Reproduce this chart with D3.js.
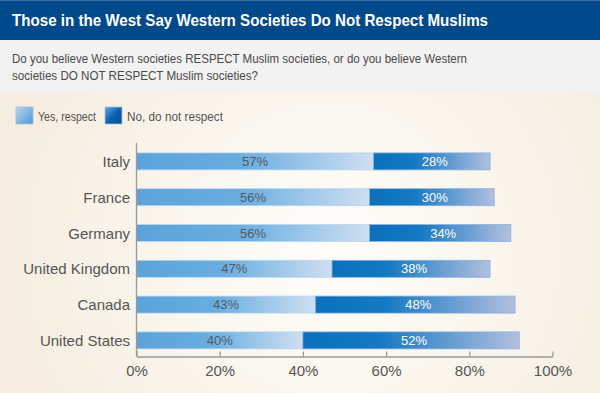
<!DOCTYPE html>
<html>
<head>
<meta charset="utf-8">
<script src="https://cdn.jsdelivr.net/npm/d3@7"></script>
<style>
  body { margin: 0; background: #fff; }
  svg { display: block; font-family: 'Liberation Sans', Arial, sans-serif; }
</style>
</head>
<body>
<svg id="chart" width="600" height="393"></svg>
<script>
const countries = ['Italy', 'France', 'Germany', 'United Kingdom', 'Canada', 'United States']
const yesRespect = [57, 56, 56, 47, 43, 40]
const noRespect = [28, 30, 34, 38, 48, 52]
const tickValues = [0, 20, 40, 60, 80, 100]

const width = 600
const height = 393
const svg = d3.select('#chart')
const defs = svg.append('defs')

// background glow
const bg = defs.append('radialGradient')
  .attr('id', 'bgGlow')
  .attr('gradientUnits', 'userSpaceOnUse')
  .attr('cx', 330).attr('cy', 250).attr('r', 330)
bg.append('stop').attr('offset', '0%').attr('stop-color', '#fefdfa')
bg.append('stop').attr('offset', '45%').attr('stop-color', '#fbf7ef')
bg.append('stop').attr('offset', '100%').attr('stop-color', '#f5ede0')

const yesGrad = defs.append('linearGradient').attr('id', 'yesGrad')
yesGrad.append('stop').attr('offset', '0%').attr('stop-color', '#5aa3da')
yesGrad.append('stop').attr('offset', '45%').attr('stop-color', '#6aaee0')
yesGrad.append('stop').attr('offset', '100%').attr('stop-color', '#cfdff2')

const noGrad = defs.append('linearGradient').attr('id', 'noGrad')
noGrad.append('stop').attr('offset', '0%').attr('stop-color', '#0b71bd')
noGrad.append('stop').attr('offset', '35%').attr('stop-color', '#1479c2')
noGrad.append('stop').attr('offset', '100%').attr('stop-color', '#b2bfe0')

const yesIcon = defs.append('linearGradient').attr('id', 'yesIcon')
  .attr('x1', 0).attr('y1', 0).attr('x2', 1).attr('y2', 1)
yesIcon.append('stop').attr('offset', '0%').attr('stop-color', '#b9d7f1')
yesIcon.append('stop').attr('offset', '100%').attr('stop-color', '#4d96d4')

const noIcon = defs.append('linearGradient').attr('id', 'noIcon')
  .attr('x1', 0).attr('y1', 0).attr('x2', 1).attr('y2', 1)
noIcon.append('stop').attr('offset', '0%').attr('stop-color', '#6ea3d8')
noIcon.append('stop').attr('offset', '50%').attr('stop-color', '#0d63b0')
noIcon.append('stop').attr('offset', '100%').attr('stop-color', '#0a4d92')

// panels
svg.append('rect').attr('width', width).attr('height', height).attr('fill', 'url(#bgGlow)')
svg.append('rect').attr('width', width).attr('height', 40).attr('fill', '#004a8c')
svg.append('rect').attr('width', width).attr('height', 1).attr('fill', '#3d6fa6')
svg.append('rect').attr('y', 40).attr('width', width).attr('height', 53).attr('fill', '#f2f2f2')

// the original face is narrower than Liberation Sans, so fit widths
svg.append('text')
  .attr('x', 12).attr('y', 25.5)
  .attr('fill', '#fff')
  .attr('textLength', 476)
  .attr('lengthAdjust', 'spacingAndGlyphs')
  .style('font-size', '16.5px')
  .style('font-weight', 'bold')
  .text('Those in the West Say Western Societies Do Not Respect Muslims')

const sub = svg.append('text')
  .attr('fill', '#4a4a4a')
  .style('font-size', '13px')
sub.append('tspan').attr('x', 12).attr('y', 63)
  .attr('textLength', 455).attr('lengthAdjust', 'spacingAndGlyphs')
  .text('Do you believe Western societies RESPECT Muslim societies, or do you believe Western')
sub.append('tspan').attr('x', 12).attr('y', 80)
  .attr('textLength', 246).attr('lengthAdjust', 'spacingAndGlyphs')
  .text('societies DO NOT RESPECT Muslim societies?')

// legend
const legendData = [
  { fill: 'url(#yesIcon)', label: 'Yes, respect', x: 16, w: 58 },
  { fill: 'url(#noIcon)', label: 'No, do not respect', x: 105, w: 96 }
]
const legend = svg.append('g').selectAll('g')
  .data(legendData)
  .enter()
  .append('g')
  .attr('transform', d => `translate(${d.x}, 107)`)
legend.append('rect')
  .attr('width', 17).attr('height', 17)
  .attr('fill', d => d.fill)
  .attr('stroke', '#9cc3e6').attr('stroke-width', 0.8)
legend.append('text')
  .attr('x', 22).attr('y', 14)
  .attr('fill', '#555')
  .attr('textLength', d => d.w)
  .attr('lengthAdjust', 'spacingAndGlyphs')
  .style('font-size', '13px')
  .text(d => d.label)

// scales
const x = d3.scaleLinear().domain([0, 100]).range([136.5, 552.5])
const y = d3.scaleBand()
  .domain(countries)
  .range([143.5, 358.3])
  .paddingInner(0.525)
  .paddingOuter(0.2625)

const rows = countries.map((c, i) => ({ country: c, yes: yesRespect[i], no: noRespect[i] }))

const bars = svg.append('g')
  .selectAll('g')
  .data(rows)
  .enter()
  .append('g')

bars.append('rect')
  .attr('x', x(0))
  .attr('y', d => y(d.country))
  .attr('width', d => x(d.yes) - x(0))
  .attr('height', y.bandwidth())
  .attr('fill', 'url(#yesGrad)')
  .attr('stroke', '#bcd5ee').attr('stroke-width', 0.8)

bars.append('rect')
  .attr('x', d => x(d.yes))
  .attr('y', d => y(d.country))
  .attr('width', d => x(d.yes + d.no) - x(d.yes))
  .attr('height', y.bandwidth())
  .attr('fill', 'url(#noGrad)')
  .attr('stroke', '#8fb0da').attr('stroke-width', 0.8)

bars.append('text')
  .attr('x', d => (x(0) + x(d.yes)) / 2)
  .attr('y', d => y(d.country) + y.bandwidth() / 2 + 4.5)
  .attr('text-anchor', 'middle')
  .attr('fill', '#4f5c6b')
  .style('font-size', '13px')
  .text(d => d.yes + '%')

bars.append('text')
  .attr('x', d => (x(d.yes) + x(d.yes + d.no)) / 2 + 3)
  .attr('y', d => y(d.country) + y.bandwidth() / 2 + 4.5)
  .attr('text-anchor', 'middle')
  .attr('fill', '#fff')
  .style('font-size', '13px')
  .text(d => d.no + '%')

// category labels
svg.append('g')
  .selectAll('text')
  .data(countries)
  .enter()
  .append('text')
  .attr('x', 130)
  .attr('y', d => y(d) + y.bandwidth() / 2 + 5.5)
  .attr('text-anchor', 'end')
  .attr('fill', '#555')
  .style('font-size', '15px')
  .text(d => d)

// axes
svg.append('line')
  .attr('x1', x(0)).attr('x2', x(0))
  .attr('y1', 143).attr('y2', 356.5)
  .attr('stroke', '#9a9a9a').attr('stroke-width', 1.3)

const xAxis = svg.append('g')
  .attr('transform', 'translate(0, 356.5)')
  .call(d3.axisBottom(x)
    .tickValues(tickValues)
    .tickSize(-5)
    .tickSizeOuter(0)
    .tickPadding(9)
    .tickFormat(d => d + '%'))
xAxis.select('.domain').attr('stroke', '#9a9a9a').attr('stroke-width', 1.3)
xAxis.selectAll('.tick line').attr('stroke', '#9a9a9a').attr('stroke-width', 1.3)
xAxis.selectAll('.tick text')
  .attr('fill', '#555')
  .style('font-size', '15px')
  .style('font-family', "'Liberation Sans', Arial, sans-serif")
</script>
</body>
</html>
